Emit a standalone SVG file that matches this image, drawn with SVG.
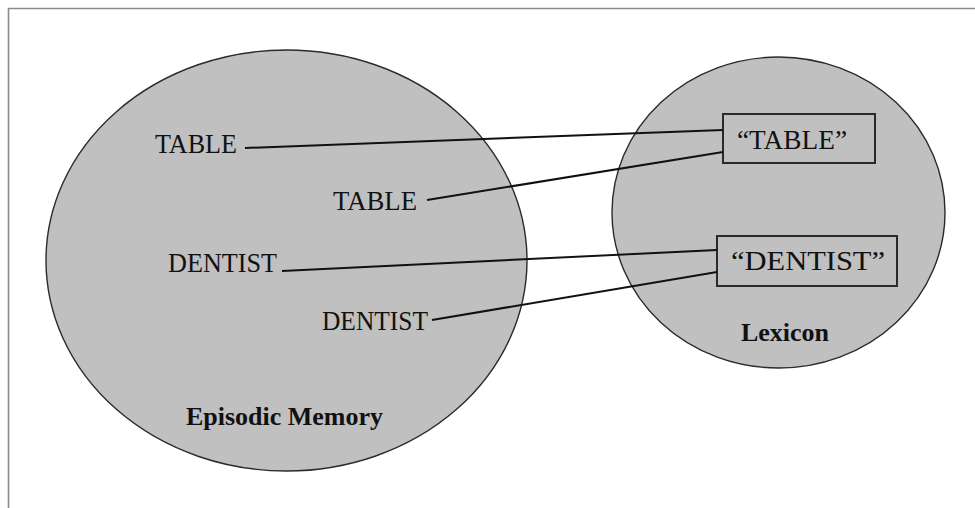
<svg xmlns="http://www.w3.org/2000/svg" width="975" height="508" viewBox="0 0 975 508">
<style>
.bg{fill:#ffffff}
.frame{fill:none;stroke:#8a8a8a;stroke-width:1.6}
.set{fill:#c0c0c0;stroke:#2a2a2a;stroke-width:1.4}
.box{fill:none;stroke:#2a2a2a;stroke-width:2}
.word{font-family:"Liberation Serif","Times New Roman",serif;font-size:27px;fill:#111}
.title{font-family:"Liberation Serif","Times New Roman",serif;font-size:26px;font-weight:bold;fill:#111}
.link{stroke:#111;stroke-width:2;fill:none}
</style>
<rect class="bg" x="0" y="0" width="975" height="508"/>
<path class="frame" d="M8.5,508 V8.5 H975"/>
<g id="episodic-memory">
<ellipse class="set" cx="286.5" cy="260.5" rx="240.5" ry="210.5"/>
<text class="title" x="284.5" y="425" text-anchor="middle" textLength="197" lengthAdjust="spacingAndGlyphs">Episodic Memory</text>
</g>
<g id="lexicon">
<ellipse class="set" cx="778.5" cy="212.5" rx="166.5" ry="155.5"/>
<text class="title" x="785" y="341" text-anchor="middle" textLength="88" lengthAdjust="spacingAndGlyphs">Lexicon</text>
</g>
<g id="table-1"><text class="word" x="155" y="153" textLength="82" lengthAdjust="spacingAndGlyphs">TABLE</text></g>
<g id="table-2"><text class="word" x="333" y="210" textLength="84" lengthAdjust="spacingAndGlyphs">TABLE</text></g>
<g id="dentist-1"><text class="word" x="168" y="272" textLength="109" lengthAdjust="spacingAndGlyphs">DENTIST</text></g>
<g id="dentist-2"><text class="word" x="322" y="330" textLength="106" lengthAdjust="spacingAndGlyphs">DENTIST</text></g>
<g id="lex-table">
<rect class="box" x="723" y="114" width="152" height="49"/>
<text class="word" x="737" y="149" font-size="30" textLength="110" lengthAdjust="spacingAndGlyphs">“TABLE”</text>
</g>
<g id="lex-dentist">
<rect class="box" x="717" y="236" width="180" height="50"/>
<text class="word" x="731" y="270" font-size="30" textLength="154" lengthAdjust="spacingAndGlyphs">“DENTIST”</text>
</g>
<g id="connectors">
<line class="link" x1="245" y1="148" x2="723" y2="130"/>
<line class="link" x1="427" y1="200" x2="723" y2="152"/>
<line class="link" x1="282" y1="271" x2="717" y2="250"/>
<line class="link" x1="432" y1="320" x2="717" y2="272"/>
</g>
</svg>
